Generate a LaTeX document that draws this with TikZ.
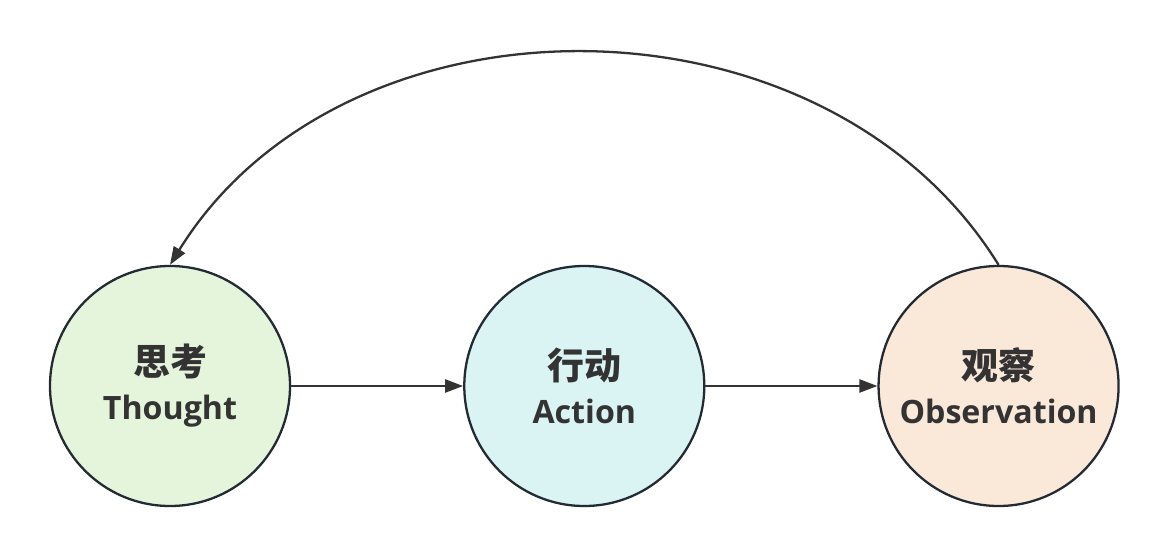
\documentclass[tikz,border=0pt]{standalone}
\usepackage{fontspec}
\setmainfont{Open Sans}[BoldFont={Open Sans Bold}]
\newfontfamily\cjk{Noto Sans CJK SC}
\usetikzlibrary{positioning,arrows.meta}
\definecolor{loopdark}{HTML}{333333}
\definecolor{loopedge}{HTML}{222B33}
\definecolor{thoughtgreen}{HTML}{E4F5DB}
\definecolor{actioncyan}{HTML}{DAF3F3}
\definecolor{obsorange}{HTML}{FAE8D9}
% Chinese line of a stage label
\newcommand{\zhline}[1]{{\cjk\bfseries\fontsize{21}{26}\selectfont #1}}

\begin{document}
\begin{tikzpicture}[
    stage/.style={circle, draw=loopedge, line width=1.3pt, minimum size=4.8cm,
      align=center, text=loopdark,
      font=\fontsize{18.3}{25}\selectfont\bfseries},
    flow/.style={draw=loopdark, line width=1.3pt,
      -{Triangle[length=0.36cm, width=0.26cm]}},
    node distance=3.44cm
  ]
  % page: 1168 x 554 px at 0.02 cm per px
  \useasboundingbox (0,0) rectangle (23.36,11.08);

  % the three stages of the loop
  \node[stage, fill=thoughtgreen] (thought) at (3.4,3.36)
    {\zhline{思考}\\\bfseries Thought};
  \node[stage, fill=actioncyan, right=of thought] (action)
    {\zhline{行动}\\\bfseries Action};
  \node[stage, fill=obsorange, right=of action] (observe)
    {\zhline{观察}\\\bfseries Observation};

  % straight arrows between neighbours
  \draw[flow] (thought) -- (action);
  \draw[flow] (action) -- (observe);

  % feedback arc back over the top
  \draw[flow] (observe.north) .. controls +(-3.5,5.65) and +(3.5,5.65) .. (thought.north);
\end{tikzpicture}
\end{document}
